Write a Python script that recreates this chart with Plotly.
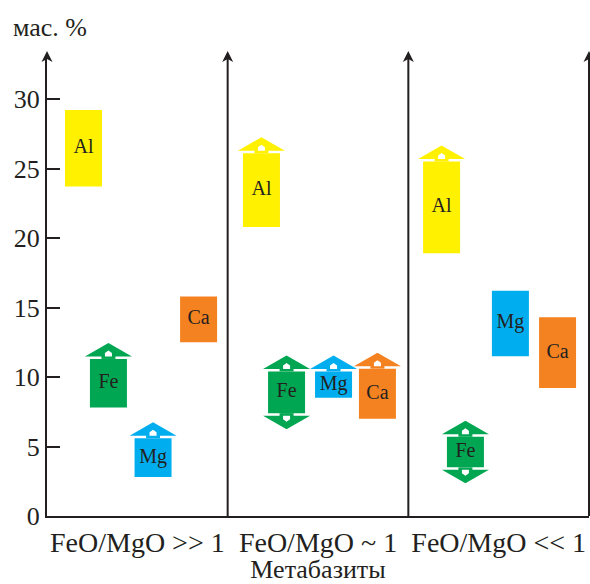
import plotly.graph_objects as go

# ---------------- data ----------------
panels = ["FeO/MgO >> 1", "FeO/MgO ~ 1", "FeO/MgO << 1"]
elements = ["Al", "Fe", "Mg", "Ca"]

al_low = [23.7, 20.8, 18.9]
al_high = [29.2, 26.1, 25.5]
fe_low = [7.8, 7.4, 3.5]
fe_high = [11.3, 10.4, 5.7]
mg_low = [2.8, 8.5, 11.5]
mg_high = [5.6, 10.4, 16.2]
ca_low = [12.5, 7.0, 9.2]
ca_high = [15.8, 10.6, 14.3]

# trend arrows: "up", "down", "both" or ""
al_trend = ["", "up", "up"]
fe_trend = ["up", "both", "both"]
mg_trend = ["up", "up", ""]
ca_trend = ["", "up", ""]

y_ticks = [0, 5, 10, 15, 20, 25, 30]
y_title = "мас. %"
x_title = "Метабазиты"

# ---------------- layout / style ----------------
W, H = 590, 584
ML, MR, MT, MB = 47, 1, 58, 68
PW, PH = W - ML - MR, H - MT - MB
X_RANGE = [0, 3]
Y_RANGE = [0, PH / 13.9]
PX = (X_RANGE[1] - X_RANGE[0]) / PW   # data units per pixel, x
PY = (Y_RANGE[1] - Y_RANGE[0]) / PH   # data units per pixel, y

slot = {"Al": [0.202, 0.187, 0.184],
        "Fe": [0.340, 0.326, 0.316],
        "Mg": [0.587, 0.586, 0.565],
        "Ca": [0.839, 0.829, 0.826]}
colors = {"Al": "#FFF100", "Fe": "#00A651", "Mg": "#00AEEF", "Ca": "#F58220"}
INK = "#231F20"
SERIF = "Liberation Serif"
BAR_W_PX = 37

series = {
    "Al": (al_low, al_high, al_trend),
    "Fe": (fe_low, fe_high, fe_trend),
    "Mg": (mg_low, mg_high, mg_trend),
    "Ca": (ca_low, ca_high, ca_trend),
}

fig = go.Figure()
shapes = []


def arrow_shapes(cx, edge, sign, color):
    """Roof-like arrow attached to a bar edge; sign=+1 up, -1 down."""
    hw = BAR_W_PX / 2 + 5
    out = []
    roof = (f"M {cx - hw * PX},{edge + sign * 2.5 * PY} "
            f"L {cx},{edge + sign * 16 * PY} "
            f"L {cx + hw * PX},{edge + sign * 2.5 * PY} Z")
    out.append(dict(type="path", path=roof, fillcolor=color,
                    line=dict(width=0), layer="above"))
    stem = (f"M {cx - 7 * PX},{edge} L {cx - 7 * PX},{edge + sign * 3 * PY} "
            f"L {cx + 7 * PX},{edge + sign * 3 * PY} L {cx + 7 * PX},{edge} Z")
    out.append(dict(type="path", path=stem, fillcolor=color,
                    line=dict(width=0), layer="above"))
    house = (f"M {cx - 3.5 * PX},{edge + sign * 2.5 * PY} "
             f"L {cx - 3.5 * PX},{edge + sign * 6 * PY} "
             f"L {cx},{edge + sign * 8.5 * PY} "
             f"L {cx + 3.5 * PX},{edge + sign * 6 * PY} "
             f"L {cx + 3.5 * PX},{edge + sign * 2.5 * PY} Z")
    out.append(dict(type="path", path=house, fillcolor="white",
                    line=dict(width=0), layer="above"))
    return out


for el in elements:
    low, high, trend = series[el]
    xs = [i + slot[el][i] for i in range(len(panels))]
    fig.add_trace(go.Bar(
        x=xs, base=low, y=[h - l for h, l in zip(high, low)],
        width=BAR_W_PX * PX, marker=dict(color=colors[el], line=dict(width=0)),
        name=el, showlegend=False, hoverinfo="skip"))
    fig.add_trace(go.Scatter(
        x=xs, y=[(h + l) / 2 for h, l in zip(high, low)],
        mode="text", text=[el] * len(xs),
        textfont=dict(family=SERIF, size=20, color=INK),
        showlegend=False, hoverinfo="skip"))
    for i, t in enumerate(trend):
        if t in ("up", "both"):
            shapes += arrow_shapes(xs[i], high[i], +1, colors[el])
        if t in ("down", "both"):
            shapes += arrow_shapes(xs[i], low[i], -1, colors[el])

# separators with arrowheads (paper coordinates)
tip = (H - MB - 51) / PH
base = (H - MB - 62) / PH
notch = (H - MB - 59) / PH
hwp = 5.5 / PW
for xp in [0, 1 / 3, 2 / 3, 1.0]:
    if xp > 0:
        shapes.append(dict(type="line", xref="paper", yref="paper",
                           x0=xp, x1=xp, y0=0, y1=notch,
                           line=dict(color=INK, width=2)))
    shapes.append(dict(type="path", xref="paper", yref="paper",
                       path=f"M {xp - hwp},{base} L {xp},{tip} L {xp + hwp},{base} L {xp},{notch} Z",
                       fillcolor=INK, line=dict(width=0)))

fig.update_layout(
    width=W, height=H,
    margin=dict(l=ML, r=MR, t=MT, b=MB),
    plot_bgcolor="white", paper_bgcolor="white",
    barmode="overlay",
    shapes=shapes,
    font=dict(family=SERIF, color=INK),
    xaxis=dict(range=X_RANGE, tickvals=[0.5, 1.5, 2.5], ticktext=panels,
               ticks="", showgrid=False, zeroline=False, automargin=False,
               showline=True, linewidth=2, linecolor=INK,
               tickfont=dict(family=SERIF, size=28, color=INK),
               title=dict(text=x_title, font=dict(family=SERIF, size=26, color=INK),
                          standoff=2)),
    yaxis=dict(range=Y_RANGE, tickvals=y_ticks, ticks="inside", ticklen=13,
               tickwidth=2, tickcolor=INK, showgrid=False, zeroline=False,
               automargin=False,
               showline=True, linewidth=2, linecolor=INK,
               tickfont=dict(family=SERIF, size=26, color=INK)),
    annotations=[dict(text=y_title, xref="paper", yref="paper",
                      x=(11 - ML) / PW, y=(H - MB - 27) / PH,
                      xanchor="left", yanchor="middle", showarrow=False,
                      font=dict(family=SERIF, size=26, color=INK))],
)

fig.write_html("out.html", config={"displayModeBar": False},
               post_script="document.body.style.margin='0';document.body.style.overflow='hidden';")
